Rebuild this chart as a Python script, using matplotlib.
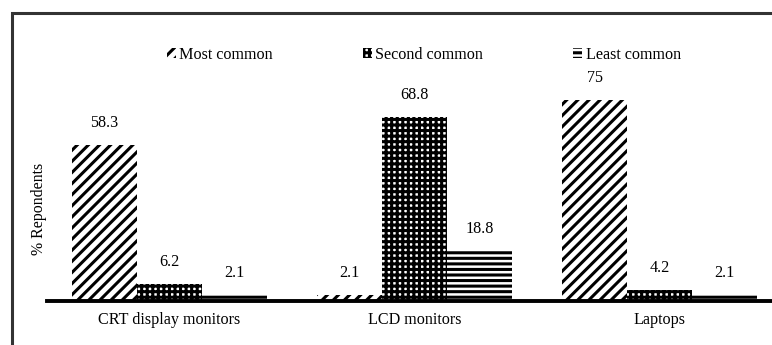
import matplotlib
matplotlib.use("Agg")
import matplotlib.pyplot as plt
from matplotlib.patches import Patch, Rectangle
import numpy as np

categories = ["CRT display monitors", "LCD monitors", "Laptops"]
series_names = ["Most common", "Second common", "Least common"]
most_common = [58.3, 2.1, 75]
second_common = [6.2, 68.8, 4.2]
least_common = [2.1, 18.8, 2.1]
value_labels = [["58.3", "2.1", "75"], ["6.2", "68.8", "4.2"], ["2.1", "18.8", "2.1"]]

plt.rcParams['font.family'] = ['Liberation Serif', 'DejaVu Serif']
plt.rcParams['hatch.linewidth'] = 2.2

W, H = 772, 345
fig = plt.figure(figsize=(W / 100, H / 100), dpi=100)

# outer frame (extends beyond the image to right/bottom)
fig.patches.append(Rectangle((11.5 / W, -0.2), 1.5, 1 - 12.5 / H + 0.2,
                             transform=fig.transFigure, fill=False,
                             edgecolor='#333333', linewidth=2.2))

ax = fig.add_axes([47 / W, 44 / H, 735 / W, 241.2 / H])
x = np.arange(len(categories))
bw = 0.265
hatches = ['///', '|||---', '---']
series = [most_common, second_common, least_common]
for i, (vals, h) in enumerate(zip(series, hatches)):
    bars = ax.bar(x + (i - 1) * bw, vals, bw, facecolor='white', edgecolor='black',
                  linewidth=0, hatch=h, label=series_names[i])
    for b, v, lab in zip(bars, vals, value_labels[i]):
        ax.annotate(lab, (b.get_x() + b.get_width() / 2, v), xytext=(0, 10),
                    textcoords='offset points', ha='center', va='bottom', fontsize=11.6)

ax.set_xlim(-0.5, 2.5)
ax.set_ylim(0, 90)
ax.set_xticks(x)
ax.set_xticklabels(categories, fontsize=11.6)
ax.tick_params(axis='x', length=0, pad=8)
ax.set_yticks([])
for s in ['top', 'right', 'left']:
    ax.spines[s].set_visible(False)
ax.spines['bottom'].set_linewidth(2.8)
ax.set_facecolor('none')
fig.text(39 / W, 1 - 209 / H, "% Repondents", rotation=90, ha='center', va='center', fontsize=11.4)

handles = [Patch(facecolor='white', edgecolor='black', linewidth=0, hatch=h) for h in hatches]
fig.legend(handles, series_names, loc='center', bbox_to_anchor=(424 / W, 1 - 55 / H),
           ncol=3, frameon=False, fontsize=11.6, handlelength=0.55, handleheight=0.6,
           handletextpad=0.2, columnspacing=5.6)

fig.savefig("out.png", dpi=100)
